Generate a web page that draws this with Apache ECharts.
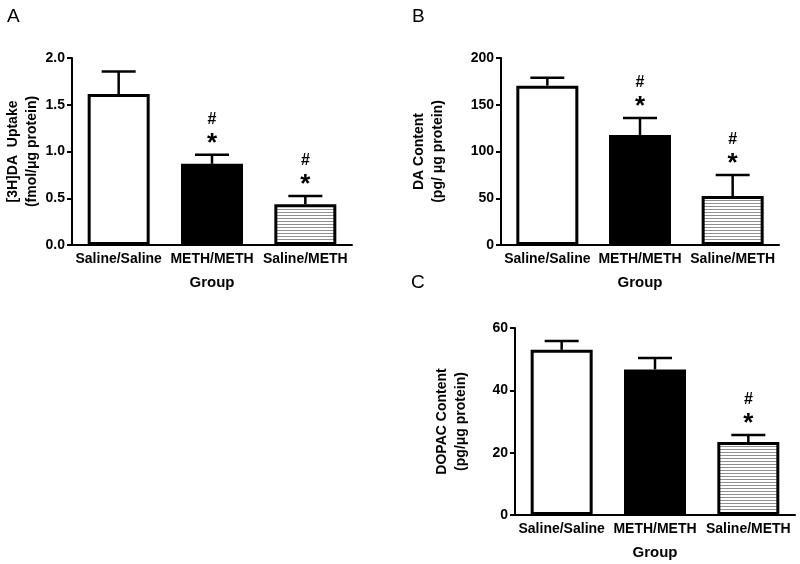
<!DOCTYPE html>
<html>
<head>
<meta charset="utf-8">
<script src="https://cdn.jsdelivr.net/npm/echarts@6/dist/echarts.min.js"></script>
<style>
  html, body { margin: 0; padding: 0; background: #fff; }
  #chart { width: 800px; height: 564px; }
</style>
</head>
<body>
<div id="chart"></div>
<script>
  // 数据
  const groups = ['Saline/Saline', 'METH/METH', 'Saline/METH'];

  const uptakeMean = [1.615, 0.868, 0.436];
  const uptakeSem = [0.24, 0.096, 0.089];
  const uptakeMarks = [false, true, true];

  const daMean = [170.4, 117.6, 52.4];
  const daSem = [8.4, 18.2, 22.5];
  const daMarks = [false, true, true];

  const dopacMean = [53.0, 46.7, 23.4];
  const dopacSem = [2.8, 3.7, 2.3];
  const dopacMarks = [false, false, true];

  const uptakeTicks = [0, 0.5, 1.0, 1.5, 2.0];
  const daTicks = [0, 50, 100, 150, 200];
  const dopacTicks = [0, 20, 40, 60];

  const FONT = 'Liberation Sans, Arial, sans-serif';

  // 横线填充
  const hatch = document.createElement('canvas');
  hatch.width = 8;
  hatch.height = 3;
  const hctx = hatch.getContext('2d');
  hctx.fillStyle = '#fff';
  hctx.fillRect(0, 0, 8, 3);
  hctx.fillStyle = '#8f8f8f';
  hctx.fillRect(0, 2, 8, 1);

  const fills = ['#ffffff', '#000000', { image: hatch, repeat: 'repeat' }];

  const myChart = echarts.init(document.getElementById('chart'));

  const xAxisOf = (gridIndex) => ({
    type: 'category',
    gridIndex,
    data: groups,
    name: 'Group',
    nameLocation: 'middle',
    nameGap: 30,
    nameTextStyle: { fontFamily: FONT, fontWeight: 'bold', fontSize: 15, color: '#000' },
    axisLine: { lineStyle: { color: '#000', width: 2 } },
    axisTick: { alignWithLabel: true, length: 5, lineStyle: { color: '#000', width: 2 } },
    axisLabel: { fontFamily: FONT, fontWeight: 'bold', fontSize: 14, color: '#000', margin: 7, interval: 0 },
    splitLine: { show: false }
  });

  const yAxisOf = (gridIndex, ticks, name, nameGap, fmt) => ({
    type: 'value',
    gridIndex,
    min: ticks[0],
    max: ticks[ticks.length - 1],
    interval: ticks[1] - ticks[0],
    name,
    nameLocation: 'middle',
    nameRotate: 90,
    nameGap,
    nameTextStyle: { fontFamily: FONT, fontWeight: 'bold', fontSize: 14, color: '#000', lineHeight: 19, align: 'center' },
    axisLine: { show: true, lineStyle: { color: '#000', width: 2 } },
    axisTick: { show: true, length: 5, lineStyle: { color: '#000', width: 2 } },
    axisLabel: { fontFamily: FONT, fontWeight: 'bold', fontSize: 14, color: '#000', margin: 7, formatter: fmt },
    splitLine: { show: false }
  });

  const barSeries = (idx, means) => ({
    type: 'bar',
    xAxisIndex: idx,
    yAxisIndex: idx,
    barWidth: 62,
    data: means.map((v, i) => ({
      value: v,
      itemStyle: { color: fills[i], borderColor: '#000', borderWidth: 3 }
    })),
    silent: true,
    z: 2
  });

  // 误差线和显著性标记
  const errSeries = (idx, means, sems, marks) => ({
    type: 'custom',
    xAxisIndex: idx,
    yAxisIndex: idx,
    data: means.map((v, i) => [i, v, v + sems[i]]),
    z: 3,
    silent: true,
    renderItem: (params, api) => {
      const base = api.coord([api.value(0), api.value(1)]);
      const top = api.coord([api.value(0), api.value(2)]);
      const children = [
        { type: 'line', shape: { x1: base[0], y1: base[1], x2: top[0], y2: top[1] }, style: { stroke: '#000', lineWidth: 2.5 } },
        { type: 'line', shape: { x1: top[0] - 17, y1: top[1], x2: top[0] + 17, y2: top[1] }, style: { stroke: '#000', lineWidth: 2.5 } }
      ];
      if (marks[params.dataIndex]) {
        children.push({ type: 'text', x: top[0], y: top[1] - 11, style: { text: '*', font: 'bold 26px ' + FONT, fill: '#000', align: 'center', verticalAlign: 'middle' } });
        children.push({ type: 'text', x: top[0], y: top[1] - 35, style: { text: '#', font: 'bold 16px ' + FONT, fill: '#000', align: 'center', verticalAlign: 'middle' } });
      }
      return { type: 'group', children };
    }
  });

  const option = {
    animation: false,
    backgroundColor: '#fff',
    grid: [
      { left: 72, right: 448, top: 58, bottom: 319 },
      { left: 501, right: 21, top: 58, bottom: 319 },
      { left: 515, right: 5, top: 328, bottom: 49 }
    ],
    xAxis: [xAxisOf(0), xAxisOf(1), xAxisOf(2)],
    yAxis: [
      yAxisOf(0, uptakeTicks, '[3H]DA  Uptake\n(fmol/\u03bcg protein)', 27, (v) => v.toFixed(1)),
      yAxisOf(1, daTicks, 'DA Content\n(pg/ \u03bcg protein)', 53),
      yAxisOf(2, dopacTicks, 'DOPAC Content\n(pg/\u03bcg protein)', 44)
    ],
    graphic: [
      { type: 'text', left: 7, top: 7, style: { text: 'A', font: '19px ' + FONT, fill: '#000' } },
      { type: 'text', left: 412, top: 7, style: { text: 'B', font: '19px ' + FONT, fill: '#000' } },
      { type: 'text', left: 411, top: 273, style: { text: 'C', font: '19px ' + FONT, fill: '#000' } }
    ],
    series: [
      barSeries(0, uptakeMean),
      errSeries(0, uptakeMean, uptakeSem, uptakeMarks),
      barSeries(1, daMean),
      errSeries(1, daMean, daSem, daMarks),
      barSeries(2, dopacMean),
      errSeries(2, dopacMean, dopacSem, dopacMarks)
    ]
  };

  myChart.setOption(option);
</script>
</body>
</html>
